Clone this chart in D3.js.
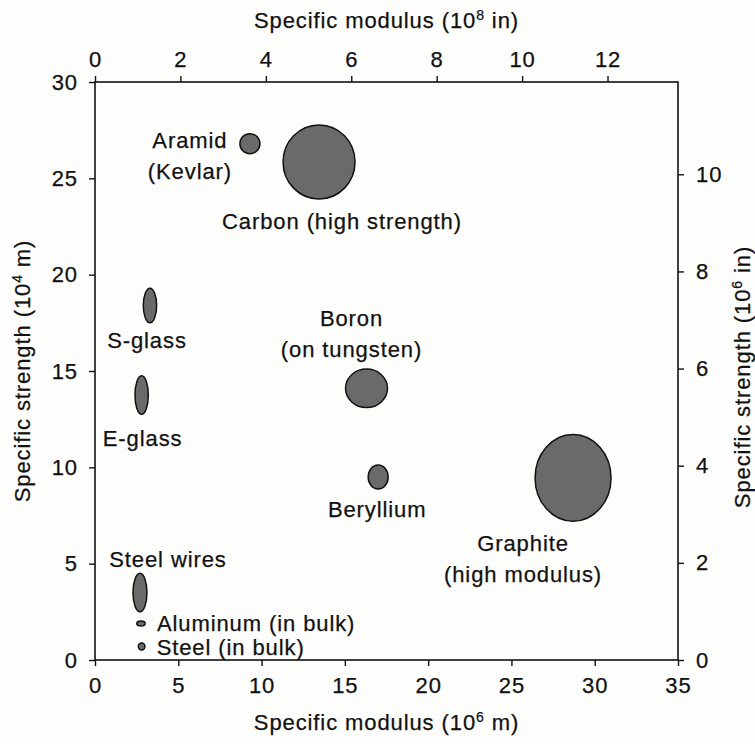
<!DOCTYPE html>
<html>
<head>
<meta charset="utf-8">
<script src="https://cdn.jsdelivr.net/npm/d3@7"></script>
<style>
  body { margin: 0; background: #fdfdfb; }
  svg text { font-family: "Liberation Sans", Arial, sans-serif; fill: #111; stroke: #111; stroke-width: 0.25px; }
</style>
</head>
<body>
<div id="chart"></div>
<script>
// materials and their ranges (centre, half-spread) in 10^6 m / 10^4 m
var materials = ["Aramid", "Carbon", "S-glass", "E-glass", "Boron", "Beryllium", "Graphite", "Steel wires", "Aluminum", "Steel"];
var modulus   = [9.3, 13.45, 3.3, 2.8, 16.3, 17.0, 28.7, 2.7, 2.76, 2.8];
var strength  = [26.8, 25.85, 18.4, 13.75, 14.1, 9.5, 9.45, 3.5, 1.9, 0.7];
var modulusSpread  = [0.6, 2.16, 0.4, 0.4, 1.26, 0.6, 2.28, 0.42, 0.25, 0.2];
var strengthSpread = [0.52, 1.92, 0.9, 1.0, 1.0, 0.62, 2.25, 1.0, 0.13, 0.18];

var bottomTicks = [0, 5, 10, 15, 20, 25, 30, 35];
var topTicks    = [0, 2, 4, 6, 8, 10, 12];
var leftTicks   = [0, 5, 10, 15, 20, 25, 30];
var rightTicks  = [0, 2, 4, 6, 8, 10];

// label text per material, placement offsets from the ellipse centre (px)
var labels = [
  {lines: ["Aramid", "(Kevlar)"], dx: -60, dy: -4, anchor: "middle"},
  {lines: ["Carbon (high strength)"], dx: 23, dy: 59, anchor: "middle"},
  {lines: ["S-glass"], dx: -3, dy: 35, anchor: "middle"},
  {lines: ["E-glass"], dx: 1, dy: 43, anchor: "middle"},
  {lines: ["Boron", "(on tungsten)"], dx: -15, dy: -70, anchor: "middle"},
  {lines: ["Beryllium"], dx: -1, dy: 32, anchor: "middle"},
  {lines: ["Graphite", "(high modulus)"], dx: -50, dy: 65, anchor: "middle"},
  {lines: ["Steel wires"], dx: 28, dy: -34, anchor: "middle"},
  {lines: ["Aluminum (in bulk)"], dx: 16, dy: 0, anchor: "start"},
  {lines: ["Steel (in bulk)"], dx: 15, dy: 0, anchor: "start"}
];

var data = materials.map(function(m, i){
  return {name: m, x: modulus[i], y: strength[i], sx: modulusSpread[i], sy: strengthSpread[i], label: labels[i]};
});

var W = 755, H = 744;
var pLeft = 95, pRight = 678, pTop = 82, pBottom = 660;
var FS = "22px", LS = "0.9px";

var svg = d3.select("#chart").append("svg")
    .attr("width", W)
    .attr("height", H);

var x = d3.scaleLinear().domain([0, 35]).range([pLeft, pRight]);
var y = d3.scaleLinear().domain([0, 30]).range([pBottom, pTop]);
var xTop = d3.scaleLinear().domain([0, 13.65]).range([pLeft, pRight]);
var yRight = d3.scaleLinear().domain([0, 11.9]).range([pBottom, pTop]);

function styleAxis(g) {
  g.select(".domain").remove();
  g.selectAll(".tick line").attr("stroke", "#111").attr("stroke-width", 1.4);
  g.selectAll(".tick text")
    .attr("font-size", FS)
    .style("letter-spacing", LS)
    .attr("fill", "#111");
}

svg.append("g")
    .attr("transform", "translate(0," + pBottom + ")")
    .call(d3.axisBottom(x).tickValues(bottomTicks).tickSize(6).tickPadding(11))
    .call(styleAxis);

svg.append("g")
    .attr("transform", "translate(0," + pTop + ")")
    .call(d3.axisTop(xTop).tickValues(topTicks).tickSize(6).tickPadding(9))
    .call(styleAxis);

svg.append("g")
    .attr("transform", "translate(" + pLeft + ",0)")
    .call(d3.axisLeft(y).tickValues(leftTicks).tickSize(6).tickPadding(11))
    .call(styleAxis);

svg.append("g")
    .attr("transform", "translate(" + pRight + ",0)")
    .call(d3.axisRight(yRight).tickValues(rightTicks).tickSize(6).tickPadding(12))
    .call(styleAxis);

// frame
svg.append("rect")
    .attr("x", pLeft)
    .attr("y", pTop)
    .attr("width", pRight - pLeft)
    .attr("height", pBottom - pTop)
    .attr("fill", "none")
    .attr("stroke", "#111")
    .attr("stroke-width", 1.6);

// ellipses
svg.selectAll("ellipse")
    .data(data)
    .enter()
    .append("ellipse")
    .attr("cx", function(d){ return x(d.x); })
    .attr("cy", function(d){ return y(d.y); })
    .attr("rx", function(d){ return x(d.sx) - x(0); })
    .attr("ry", function(d){ return y(0) - y(d.sy); })
    .attr("fill", "#6a6a6a")
    .attr("stroke", "#111")
    .attr("stroke-width", 1.5);

// labels
var lab = svg.selectAll(".lab")
    .data(data)
    .enter()
    .append("text")
    .attr("class", "lab")
    .attr("font-size", FS)
    .style("letter-spacing", LS)
    .attr("text-anchor", function(d){ return d.label.anchor; })
    .attr("x", function(d){ return x(d.x) + d.label.dx; })
    .attr("y", function(d){ return y(d.y) + d.label.dy + 8; });

lab.selectAll("tspan")
    .data(function(d){ return d.label.lines.map(function(t){ return {t: t, x: x(d.x) + d.label.dx}; }); })
    .enter()
    .append("tspan")
    .attr("x", function(d){ return d.x; })
    .attr("dy", function(d, i){ return i === 0 ? 0 : 31; })
    .text(function(d){ return d.t; });

// axis titles
function title(txt, sup, rest) {
  return function(t) {
    t.append("tspan").text(txt);
    t.append("tspan").attr("font-size", "14px").attr("dy", -8).text(sup);
    t.append("tspan").attr("dy", 8).text(rest);
  };
}

svg.append("text")
    .attr("x", (pLeft + pRight) / 2)
    .attr("y", 28)
    .attr("text-anchor", "middle")
    .attr("font-size", FS)
    .style("letter-spacing", LS)
    .call(title("Specific modulus (10", "8", " in)"));

svg.append("text")
    .attr("x", (pLeft + pRight) / 2)
    .attr("y", 730)
    .attr("text-anchor", "middle")
    .attr("font-size", FS)
    .style("letter-spacing", LS)
    .call(title("Specific modulus (10", "6", " m)"));

svg.append("text")
    .attr("transform", "translate(30," + ((pTop + pBottom) / 2) + ") rotate(-90)")
    .attr("text-anchor", "middle")
    .attr("font-size", FS)
    .style("letter-spacing", LS)
    .call(title("Specific strength (10", "4", " m)"));

svg.append("text")
    .attr("transform", "translate(750," + ((pTop + pBottom) / 2 + 6) + ") rotate(-90)")
    .attr("text-anchor", "middle")
    .attr("font-size", FS)
    .style("letter-spacing", LS)
    .call(title("Specific strength (10", "6", " in)"));
</script>
</body>
</html>
